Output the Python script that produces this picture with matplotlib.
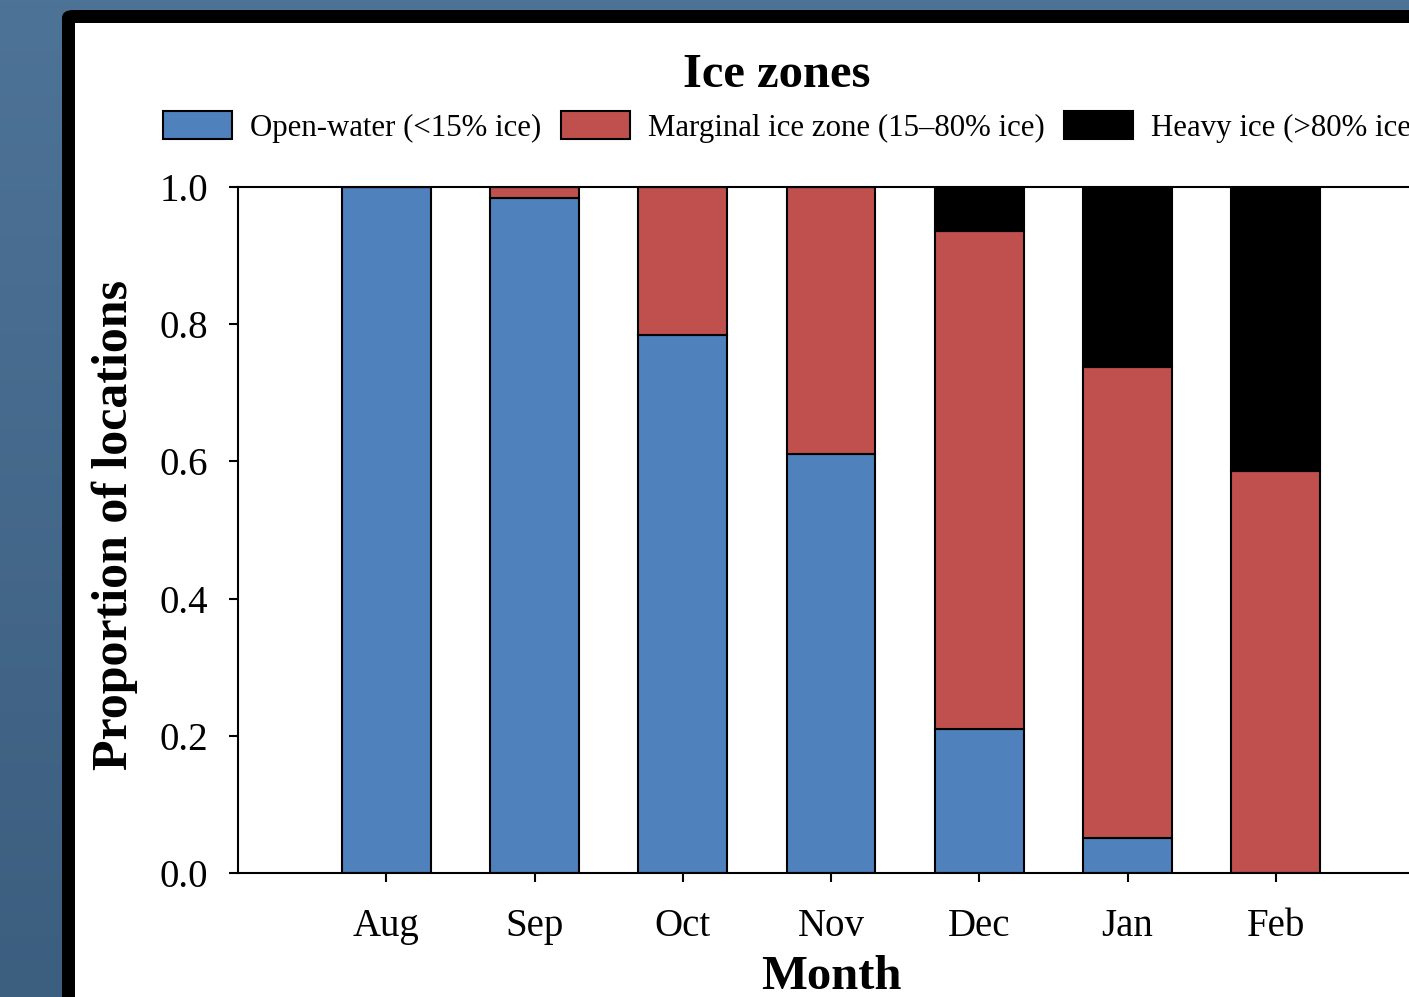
import matplotlib
matplotlib.use("Agg")
import matplotlib.pyplot as plt
import numpy as np
from matplotlib.patches import FancyBboxPatch, Rectangle
from matplotlib.ticker import FormatStrFormatter

# data
months = ['Aug', 'Sep', 'Oct', 'Nov', 'Dec', 'Jan', 'Feb']
open_water = [1.0, 0.984, 0.784, 0.611, 0.210, 0.051, 0.0]
marginal = [0.0, 0.016, 0.216, 0.389, 0.726, 0.687, 0.586]
heavy = [0.0, 0.0, 0.0, 0.0, 0.064, 0.262, 0.414]
labels = ['Open-water (<15% ice)', 'Marginal ice zone (15\u201380% ice)', 'Heavy ice (>80% ice)']

plt.rcParams['font.family'] = ['Liberation Serif', 'DejaVu Serif']

W, H = 1409, 997
fig = plt.figure(figsize=(W / 100, H / 100), dpi=100)

# slide background with a soft vertical gradient
bg = fig.add_axes([0, 0, 1, 1], zorder=-10)
grad = np.linspace(0, 1, 256).reshape(-1, 1)
cmap = matplotlib.colors.LinearSegmentedColormap.from_list('bg', ['#4d7397', '#3c5e7f'])
bg.imshow(grad, aspect='auto', cmap=cmap, extent=[0, 1, 0, 1])
bg.set_axis_off()

# black frame and white panel
frame = FancyBboxPatch((62 / W, 0 - 0.2), 1.2, (997 - 10) / H + 0.2,
                       boxstyle='round,pad=0,rounding_size=0.008',
                       transform=fig.transFigure, facecolor='black', edgecolor='none', zorder=-5)
fig.patches.append(frame)
panel = Rectangle((75 / W, -0.1), 1.2, (997 - 23) / H + 0.1, transform=fig.transFigure,
                  facecolor='white', edgecolor='none', zorder=-4)
fig.patches.append(panel)

ax = fig.add_axes([238 / W, 1 - 873 / H, (1424 - 238) / W, (873 - 187) / H])
ax.set_facecolor('none')
x = np.arange(len(months))
w = 0.6
ax.bar(x, open_water, w, color='#4f81bd', edgecolor='black', linewidth=1.5, label=labels[0])
ax.bar(x, marginal, w, bottom=open_water, color='#c0504d', edgecolor='black', linewidth=1.5, label=labels[1])
ax.bar(x, heavy, w, bottom=np.array(open_water) + np.array(marginal), color='black',
       edgecolor='black', linewidth=1.5, label=labels[2])

ax.set_xlim(-1, len(months))
ax.set_ylim(0, 1.0)
ax.set_xticks(x)
ax.set_xticklabels(months)
ax.set_yticks(np.arange(0, 1.01, 0.2))
ax.yaxis.set_major_formatter(FormatStrFormatter('%.1f'))
ax.tick_params(direction='out', length=6.5, width=1.5, labelsize=28)
ax.tick_params(axis='y', pad=15)
ax.tick_params(axis='x', pad=19)
for s in ax.spines.values():
    s.set_linewidth(1.5)

ax.set_ylabel('Proportion of locations', fontsize=36, fontweight='bold')
ax.yaxis.set_label_coords(-0.084, 0.507)
ax.set_xlabel('Month', fontsize=35, fontweight='bold', labelpad=7)

fig.text(777 / W, 1 - 75 / H, 'Ice zones', fontsize=35, fontweight='bold', ha='center', va='center')

fig.legend(loc='center left', bbox_to_anchor=(163 / W, 1 - 127 / H), ncol=3, frameon=False,
           fontsize=22.2, handlelength=2.25, handleheight=1.0, handletextpad=0.58,
           columnspacing=0.62, borderpad=0, borderaxespad=0)

fig.savefig('out.png', dpi=100)
